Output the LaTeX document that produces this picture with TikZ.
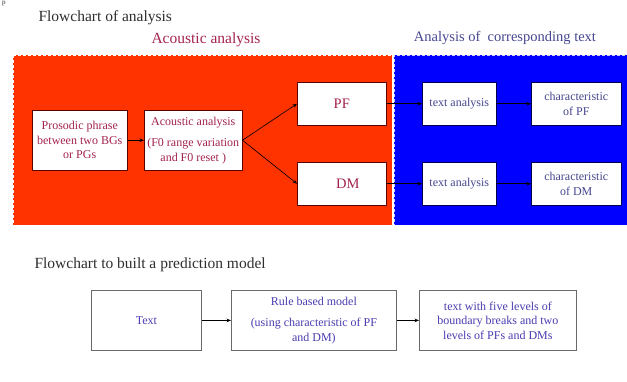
\documentclass[tikz,border=0pt]{standalone}
\usepackage{fontspec}
\setmainfont{Liberation Serif}
\usetikzlibrary{arrows.meta,shadows}
\definecolor{acred}{HTML}{FF3300}
\definecolor{txblue}{HTML}{0000FF}
\definecolor{crimsontext}{HTML}{A3234F}
\definecolor{slatetext}{HTML}{46468F}
\definecolor{modeltext}{HTML}{4A3DB0}
\definecolor{titlegray}{HTML}{2E2E2E}
\definecolor{boxline}{HTML}{6A6A6A}

\begin{document}
\begin{tikzpicture}[x=1pt,y=-1pt,
  region/.style={draw=white, dash pattern=on 3pt off 2pt, line width=0.8pt},
  basebox/.style={fill=white, align=center, inner sep=0pt, anchor=north west,
    font=\fontsize{12}{14.5}\selectfont},
  redbox/.style={basebox, draw=red!35!black, line width=0.5pt, text=crimsontext},
  bluebox/.style={basebox, draw=blue!30!black, line width=0.5pt, text=slatetext},
  modelbox/.style={basebox, draw=boxline, line width=0.8pt, text=modeltext,
    drop shadow={opacity=0.25, shadow xshift=1pt, shadow yshift=-1pt}},
  flow/.style={-{Stealth[length=4.5pt,width=3.5pt]}, line width=0.6pt, black},
  heading/.style={anchor=west, text=titlegray, font=\fontsize{15.5}{18}\selectfont},
]
\useasboundingbox (0,0) rectangle (627,381);

% small letter in the top-left corner
\node[anchor=north west, inner sep=0pt, text=titlegray,
  font=\fontsize{7}{8}\selectfont] (stray) at (2,0.5) {p};

% ---------- upper flowchart ----------
\node[heading] (title1) at (35,18) {Flowchart of analysis};

\fill[acred] (13,55) rectangle (392,225);
\draw[region] (13,55) rectangle (392,225);
\fill[txblue] (394,55) rectangle (630,225);
\draw[region, draw=white!80!blue] (630,55) -- (394,55) -- (394,225);

\node[text=crimsontext, font=\fontsize{15.5}{18}\selectfont] (actitle) at (206,40) {Acoustic analysis};
\node[text=slatetext, font=\fontsize{14.5}{17}\selectfont] (txtitle) at (505,38) {Analysis of\ \ corresponding text};

\node[redbox, minimum width=95pt, minimum height=60pt] (pros) at (32,110)
  {Prosodic phrase\\between two BGs\\or PGs};
\node[redbox, minimum width=98pt, minimum height=60pt] (acou) at (144,110)
  {Acoustic analysis\\[7pt](F0 range variation\\and F0 reset )};
\node[redbox, minimum width=89pt, minimum height=43pt,
  font=\fontsize{14.5}{17}\selectfont] (pf) at (297,82) {PF};
\node[redbox, minimum width=89pt, minimum height=43pt,
  font=\fontsize{14.5}{17}\selectfont] (dm) at (297,162) {\hspace*{12pt}DM};

\node[bluebox, minimum width=74pt, minimum height=43pt] (tapf) at (422,82) {text analysis};
\node[bluebox, minimum width=90pt, minimum height=43pt] (chpf) at (531,82) {characteristic\\of PF};
\node[bluebox, minimum width=74pt, minimum height=43pt] (tadm) at (422,162) {text analysis};
\node[bluebox, minimum width=90pt, minimum height=43pt] (chdm) at (531,162) {characteristic\\of DM};

\draw[flow] (pros) -- (acou);
\draw[flow] (acou.east) -- (pf.west);
\draw[flow] (acou.east) -- (dm.west);
\draw[flow] (pf) -- (tapf);
\draw[flow] (tapf) -- (chpf);
\draw[flow] (dm) -- (tadm);
\draw[flow] (tadm) -- (chdm);

% ---------- lower flowchart ----------
\node[heading] (title2) at (31,265) {Flowchart to built a prediction model};

\node[modelbox, minimum width=110pt, minimum height=60pt] (txt) at (91,290) {Text};
\node[modelbox, minimum width=165pt, minimum height=60pt] (rule) at (231,290)
  {Rule based model\\[7pt](using characteristic of PF\\and DM)};
\node[modelbox, minimum width=157pt, minimum height=60pt] (out) at (419,290)
  {text with five levels of\\boundary breaks and two\\levels of PFs and DMs};

\draw[flow] (txt) -- (rule);
\draw[flow] (rule) -- (out);
\end{tikzpicture}
\end{document}
